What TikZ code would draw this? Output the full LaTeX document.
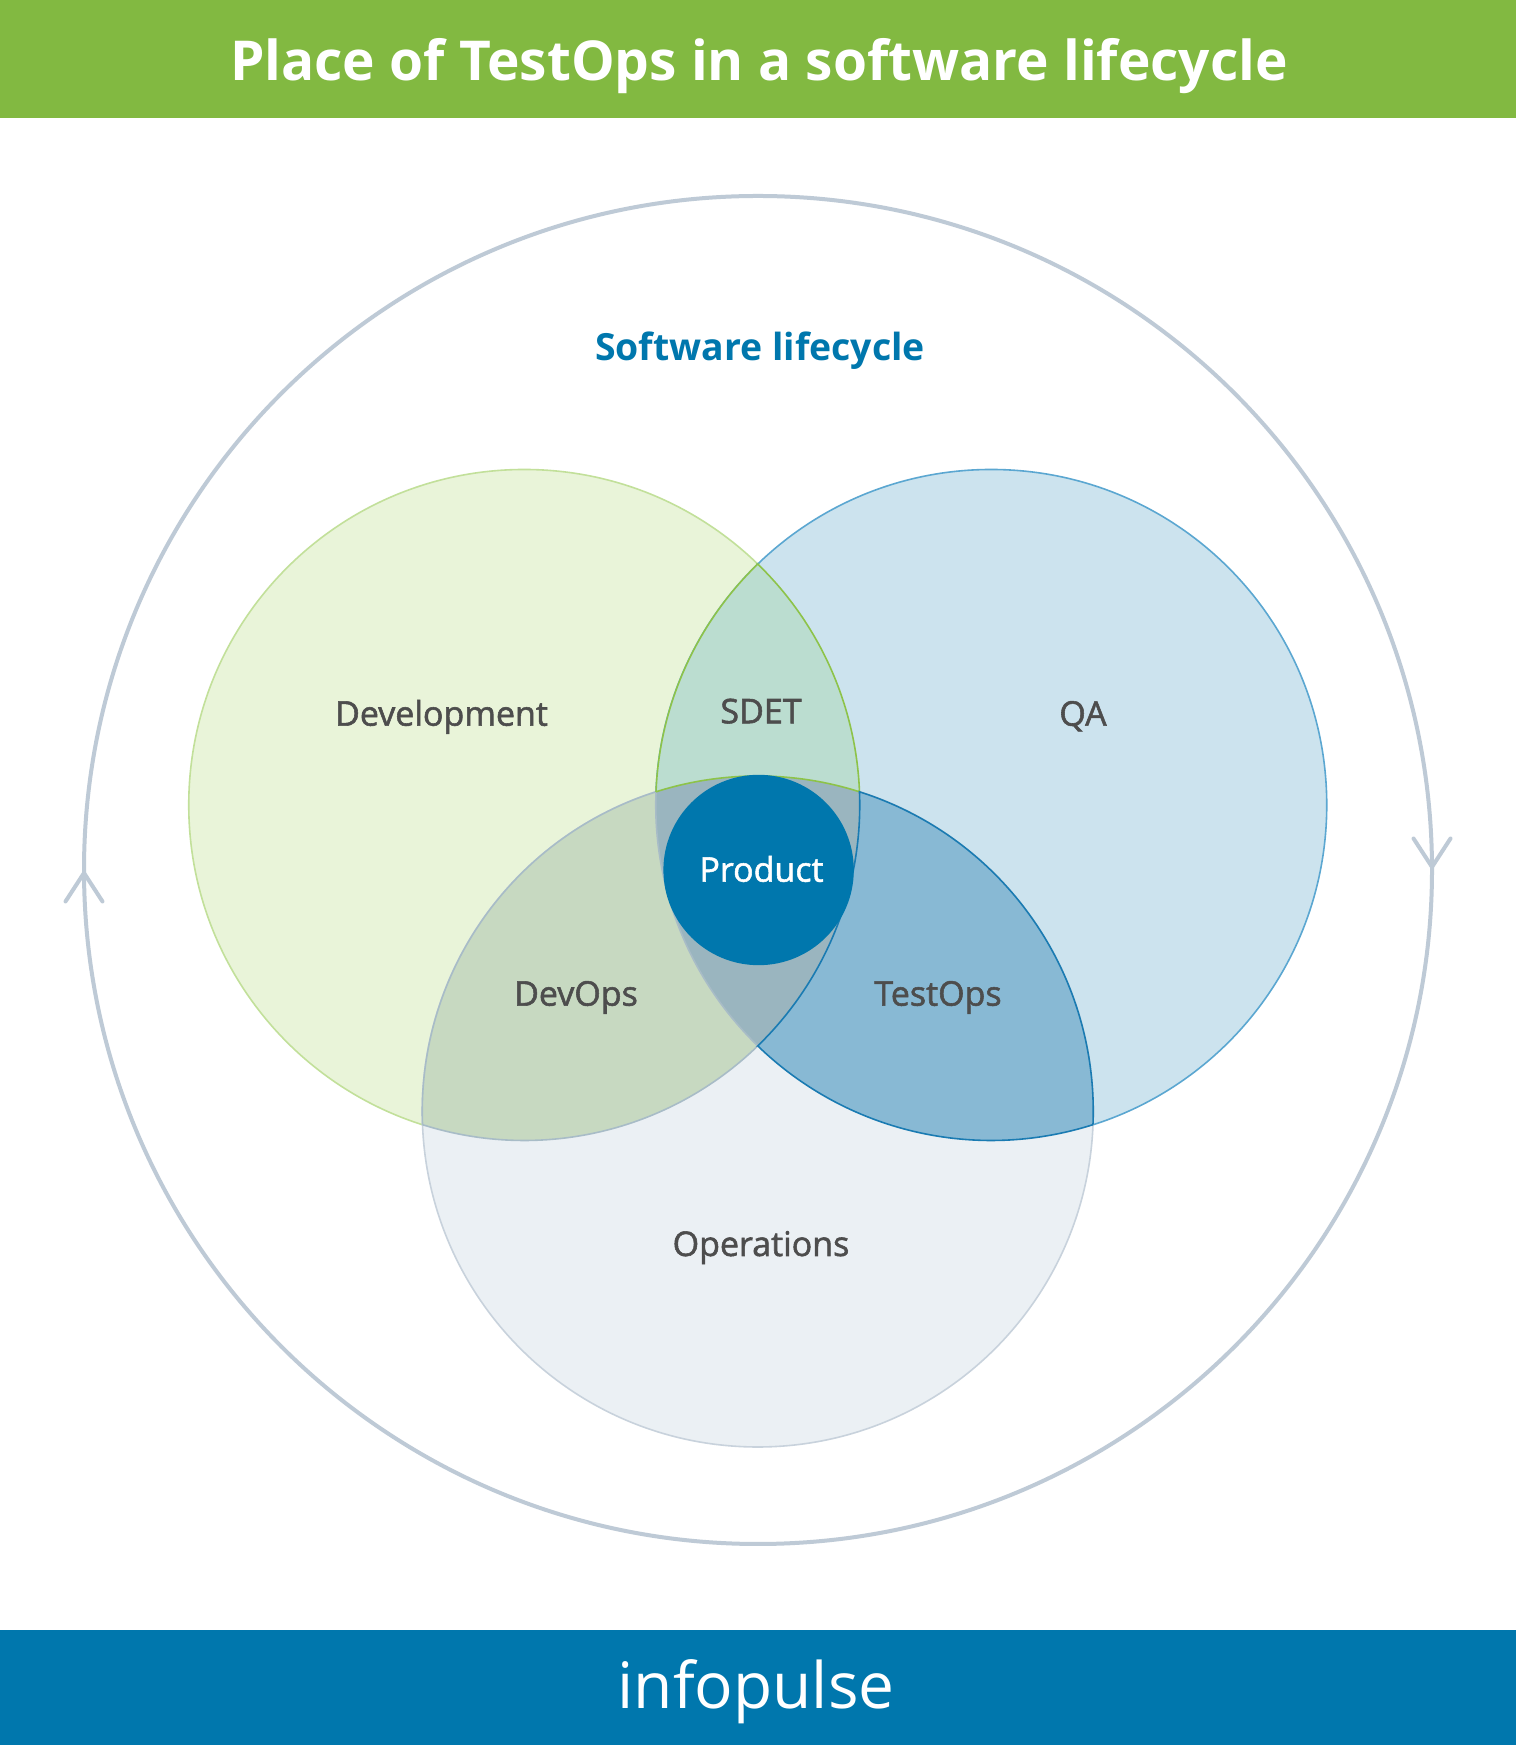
\documentclass[tikz,border=0pt]{standalone}
\usepackage{fontspec}
\setmainfont{Open Sans}
\newfontfamily\lblfont[FakeBold=1.6]{Open Sans}
\usetikzlibrary{calc}
\definecolor{hdrgreen}{HTML}{82B941}
\definecolor{ftrblue}{HTML}{0077AD}
\definecolor{devfill}{HTML}{E9F4D9}
\definecolor{devline}{HTML}{C2E09A}
\definecolor{qafill}{HTML}{CCE3EE}
\definecolor{qaline}{HTML}{5BA7D1}
\definecolor{opsfill}{HTML}{EBF0F4}
\definecolor{opsline}{HTML}{C8D2DC}
\definecolor{sdetfill}{HTML}{BBDDD0}
\definecolor{sdetline}{HTML}{8DC349}
\definecolor{devopsfill}{HTML}{C7D9C1}
\definecolor{devopsline}{HTML}{A8BCC7}
\definecolor{testopsfill}{HTML}{88B9D4}
\definecolor{testopsline}{HTML}{1A7BB2}
\definecolor{corefill}{HTML}{9AB5BF}
\definecolor{ringline}{HTML}{BECAD6}
\definecolor{labelgray}{HTML}{4D4D4D}
\newcommand\RR{335.5}
\newcommand\pathSDET{($(D)+(45.9:\RR)$) arc[start angle=45.9,end angle=2.255,radius=\RR] -- ($(O)+(72.34:\RR)$) arc[start angle=72.34,end angle=107.66,radius=\RR] -- ($(Q)+(177.745:\RR)$) arc[start angle=177.745,end angle=134.1,radius=\RR] -- cycle}
\newcommand\pathCORE{($(O)+(107.66:\RR)$) arc[start angle=107.66,end angle=72.34,radius=\RR] -- ($(D)+(2.255:\RR)$) arc[start angle=2.255,end angle=-45.9,radius=\RR] -- ($(Q)+(225.9:\RR)$) arc[start angle=225.9,end angle=177.745,radius=\RR] -- cycle}
\newcommand\pathDEVOPS{($(O)+(182.255:\RR)$) arc[start angle=182.255,end angle=107.66,radius=\RR] -- ($(Q)+(177.745:\RR)$) arc[start angle=177.745,end angle=225.9,radius=\RR] -- ($(D)+(-45.9:\RR)$) arc[start angle=-45.9,end angle=-107.66,radius=\RR] -- cycle}
\newcommand\pathTESTOPS{($(D)+(2.255:\RR)$) arc[start angle=2.255,end angle=-45.9,radius=\RR] -- ($(Q)+(225.9:\RR)$) arc[start angle=225.9,end angle=287.66,radius=\RR] -- ($(O)+(-2.255:\RR)$) arc[start angle=-2.255,end angle=72.34,radius=\RR] -- cycle}
\begin{document}
\begin{tikzpicture}[x=0.5pt,y=0.5pt,
  lbl/.style={font=\lblfont\fontsize{17}{20}\selectfont, text=labelgray, anchor=base, inner sep=0pt},
  venn/.style={line width=0.8pt},
  ringarrow/.style={draw=ringline, line width=2pt, line cap=round, line join=round}]
\useasboundingbox (0,0) rectangle (1516,1745);
\fill[white] (0,0) rectangle (1516,1745);
\fill[hdrgreen] (0,1627) rectangle (1516,1745);
\fill[ftrblue] (0,0) rectangle (1516,115);
\node[font=\fontsize{27.5}{32}\selectfont\bfseries, text=white, anchor=base, inner sep=0pt] (title) at (759,1664) {Place of TestOps in a software lifecycle};
\node[font=\fontsize{32}{36}\selectfont, text=white, anchor=base, inner sep=0pt] (logo) at (756,36.7) {infopulse};
% outer lifecycle ring
\coordinate (C) at (758,875);
\draw[ringline, line width=2pt] (C) circle[radius=674];
\coordinate (arrL) at (84,872);
\coordinate (arrR) at (1432,878);
\draw[ringarrow] ($(arrL)+(-18.5,-28.5)$) -- (arrL) -- ($(arrL)+(18.5,-28.5)$);
\draw[ringarrow] ($(arrR)+(-18.5,28.5)$) -- (arrR) -- ($(arrR)+(18.5,28.5)$);
\node[font=\fontsize{18.7}{22}\selectfont\bfseries, text=ftrblue, anchor=base, inner sep=0pt] (life) at (760,1384) {Software lifecycle};
% circle centres
\coordinate (D) at (524.25,940);
\coordinate (Q) at (991.25,940);
\coordinate (O) at (757.75,633.5);
\path[venn, fill=devfill, draw=devline] (D) circle[radius=\RR];
\path[venn, fill=qafill, draw=qaline] (Q) circle[radius=\RR];
\path[venn, fill=opsfill, draw=opsline] (O) circle[radius=\RR];
% overlaps
\fill[sdetfill] \pathSDET;
\fill[devopsfill] \pathDEVOPS;
\fill[testopsfill] \pathTESTOPS;
\fill[corefill] \pathCORE;
\draw[venn, devopsline] \pathDEVOPS;
\draw[venn, sdetline] \pathSDET;
\draw[venn, testopsline] \pathTESTOPS;
% product
\node[circle, fill=ftrblue, minimum size=95.2pt, inner sep=0pt] (prod) at (758.6,875) {};
\node[lbl, text=white] (prodtxt) at (761.5,863.3) {Product};
% labels
\node[lbl] (dev) at (441.5,1019.3) {Development};
\node[lbl] (sdet) at (761,1021.7) {SDET};
\node[lbl] (qa) at (1083,1019.3) {QA};
\node[lbl] (devops) at (576,739.3) {DevOps};
\node[lbl] (testops) at (938,739.3) {TestOps};
\node[lbl] (ops) at (761,489) {Operations};
\end{tikzpicture}
\end{document}
